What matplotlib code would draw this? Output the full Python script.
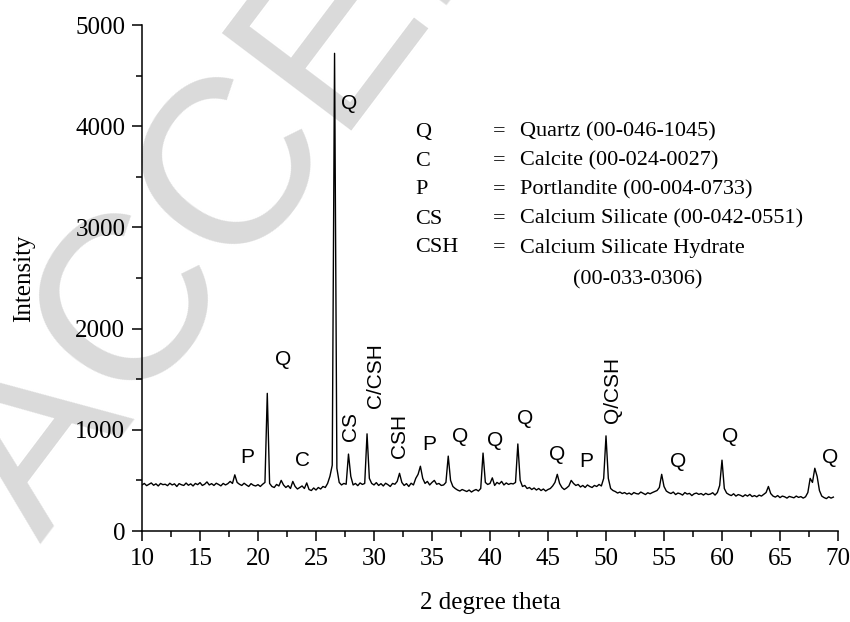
import numpy as np
import matplotlib.pyplot as plt
from matplotlib.ticker import MultipleLocator

# XRD step scan, 2-theta from 10.0 in 0.2 degree steps
scan_start = 10.0
scan_step = 0.2
intensity = [
    455, 470, 448, 462, 475, 452, 466, 445, 470, 458,    # 10
    462, 448, 472, 455, 466, 440, 468, 457, 450, 474,    # 12
    452, 466, 445, 470, 458, 478, 450, 462, 485, 455,    # 14
    468, 450, 472, 460, 446, 470, 455, 468, 490, 470,    # 16
    555, 480, 462, 450, 472, 455, 440, 468, 452, 445,    # 18
    458, 440, 462, 480, 1360, 470, 440, 430, 460, 445,   # 20
    500, 455, 430, 448, 420, 490, 440, 415, 430, 445,    # 22
    420, 475, 410, 400, 425, 405, 430, 415, 440, 430,    # 24
    470, 540, 650, 4720, 620, 480, 455, 470, 462, 760,   # 26
    540, 455, 470, 448, 475, 460, 470, 960, 520, 470,    # 28
    455, 478, 450, 468, 445, 472, 458, 440, 470, 462,    # 30
    490, 570, 480, 450, 468, 440, 472, 455, 520, 560,    # 32
    640, 520, 470, 490, 455, 480, 500, 462, 470, 450,    # 34
    455, 480, 740, 500, 440, 420, 405, 395, 410, 400,    # 36
    390, 405, 385, 400, 410, 395, 420, 770, 480, 460,    # 38
    470, 525, 450, 480, 465, 490, 455, 475, 460, 470,    # 40
    465, 480, 860, 500, 440, 450, 420, 430, 410, 425,    # 42
    405, 420, 400, 415, 395, 410, 420, 445, 480, 560,    # 44
    470, 430, 410, 425, 445, 500, 470, 450, 460, 435,    # 46
    450, 430, 455, 440, 430, 450, 440, 460, 445, 520,    # 48
    940, 520, 420, 400, 390, 375, 385, 370, 380, 365,    # 50
    375, 360, 380, 370, 365, 385, 372, 360, 378, 368,    # 52
    380, 390, 400, 430, 560, 440, 395, 380, 370, 385,    # 54
    360, 375, 368, 355, 380, 365, 372, 350, 368, 375,    # 56
    362, 370, 355, 372, 360, 365, 378, 355, 380, 450,    # 58
    700, 420, 375, 360, 350, 368, 345, 360, 352, 340,    # 60
    358, 345, 362, 340, 350, 338, 355, 345, 362, 380,    # 62
    440, 370, 345, 335, 350, 330, 345, 338, 325, 342,    # 64
    335, 328, 345, 332, 340, 325, 338, 380, 520, 480,    # 66
    620, 540, 400, 345, 330, 320, 338, 325, 335,         # 68
]

# peak labels: text, 2-theta, intensity, rotation
label_text = ['P', 'Q', 'C', 'Q', 'CS', 'C/CSH', 'CSH', 'P', 'Q', 'Q',
              'Q', 'Q', 'P', 'Q/CSH', 'Q', 'Q', 'Q']
label_x = [19.05, 22.2, 23.8, 27.85, 28.0, 30.1, 32.16, 34.74, 37.4, 40.43,
           43.02, 45.78, 48.28, 50.6, 56.2, 60.7, 69.3]
label_y = [731, 1690, 700, 4229, 1028, 1532, 939, 850, 929, 899,
           1107, 751, 682, 1393, 682, 929, 731]
label_rot = [0, 0, 0, 0, 90, 90, 90, 0, 0, 0, 0, 0, 0, 90, 0, 0, 0]

phase_code = ['Q', 'C', 'P', 'CS', 'CSH', '']
phase_name = ['Quartz (00-046-1045)', 'Calcite (00-024-0027)',
              'Portlandite (00-004-0733)', 'Calcium Silicate (00-042-0551)',
              'Calcium Silicate Hydrate', '']
phase_extra = '(00-033-0306)'

serif = 'Liberation Serif'
sans = 'Liberation Sans'

two_theta = scan_start + scan_step * np.arange(len(intensity))

fig = plt.figure(figsize=(8.5, 6.22), dpi=100)
ax = fig.add_axes([142 / 850, 1 - 531 / 622, (838 - 142) / 850, (531 - 25) / 622])

# watermark, behind everything
fig.text(0.047, 0.125, 'ACCEPTED MANUSCRIPT', rotation=53, fontsize=170,
         family=sans, color='#dadada', ha='left', va='baseline',
         rotation_mode='anchor', zorder=-1)
ax.set_facecolor('none')

ax.plot(two_theta, intensity, color='black', lw=1.0)

for t, x, y, r in zip(label_text, label_x, label_y, label_rot):
    ax.text(x, y, t, rotation=r, ha='center', va='center',
            fontsize=15, family=sans)

# phase key
px_per_deg = (838 - 142) / 60
def dx(px):
    return 10 + (px - 142) / px_per_deg
def dy(py):
    return (531 - py) / 0.1012

rows_y = [132, 161, 190, 219, 248, 280]
for code, name, ry in zip(phase_code, phase_name, rows_y):
    if code:
        ax.text(dx(415), dy(ry), code, fontsize=16, family=serif, va='center')
        ax.text(dx(493), dy(ry), '=', fontsize=16, family=serif, va='center')
        ax.text(dx(520), dy(ry), name, fontsize=16, family=serif, va='center')
ax.text(dx(573), dy(rows_y[-1]), phase_extra, fontsize=16, family=serif,
        va='center')

ax.set_xlim(10, 70)
ax.set_ylim(0, 5000)
ax.xaxis.set_major_locator(MultipleLocator(5))
ax.xaxis.set_minor_locator(MultipleLocator(2.5))
ax.yaxis.set_major_locator(MultipleLocator(1000))
ax.yaxis.set_minor_locator(MultipleLocator(500))

for s in ['top', 'right']:
    ax.spines[s].set_visible(False)
for s in ['left', 'bottom']:
    ax.spines[s].set_linewidth(1.1)

ax.tick_params(which='major', direction='out', length=7, width=1.1,
               labelsize=18, pad=5)
ax.tick_params(which='minor', direction='out', length=4, width=1.1)
for lab in ax.get_xticklabels() + ax.get_yticklabels():
    lab.set_family(serif)

ax.set_xlabel('2 degree theta', fontsize=18, family=serif, labelpad=16)
ax.set_ylabel('Intensity', fontsize=18, family=serif, labelpad=29)

fig.savefig('out.png', dpi=100)
